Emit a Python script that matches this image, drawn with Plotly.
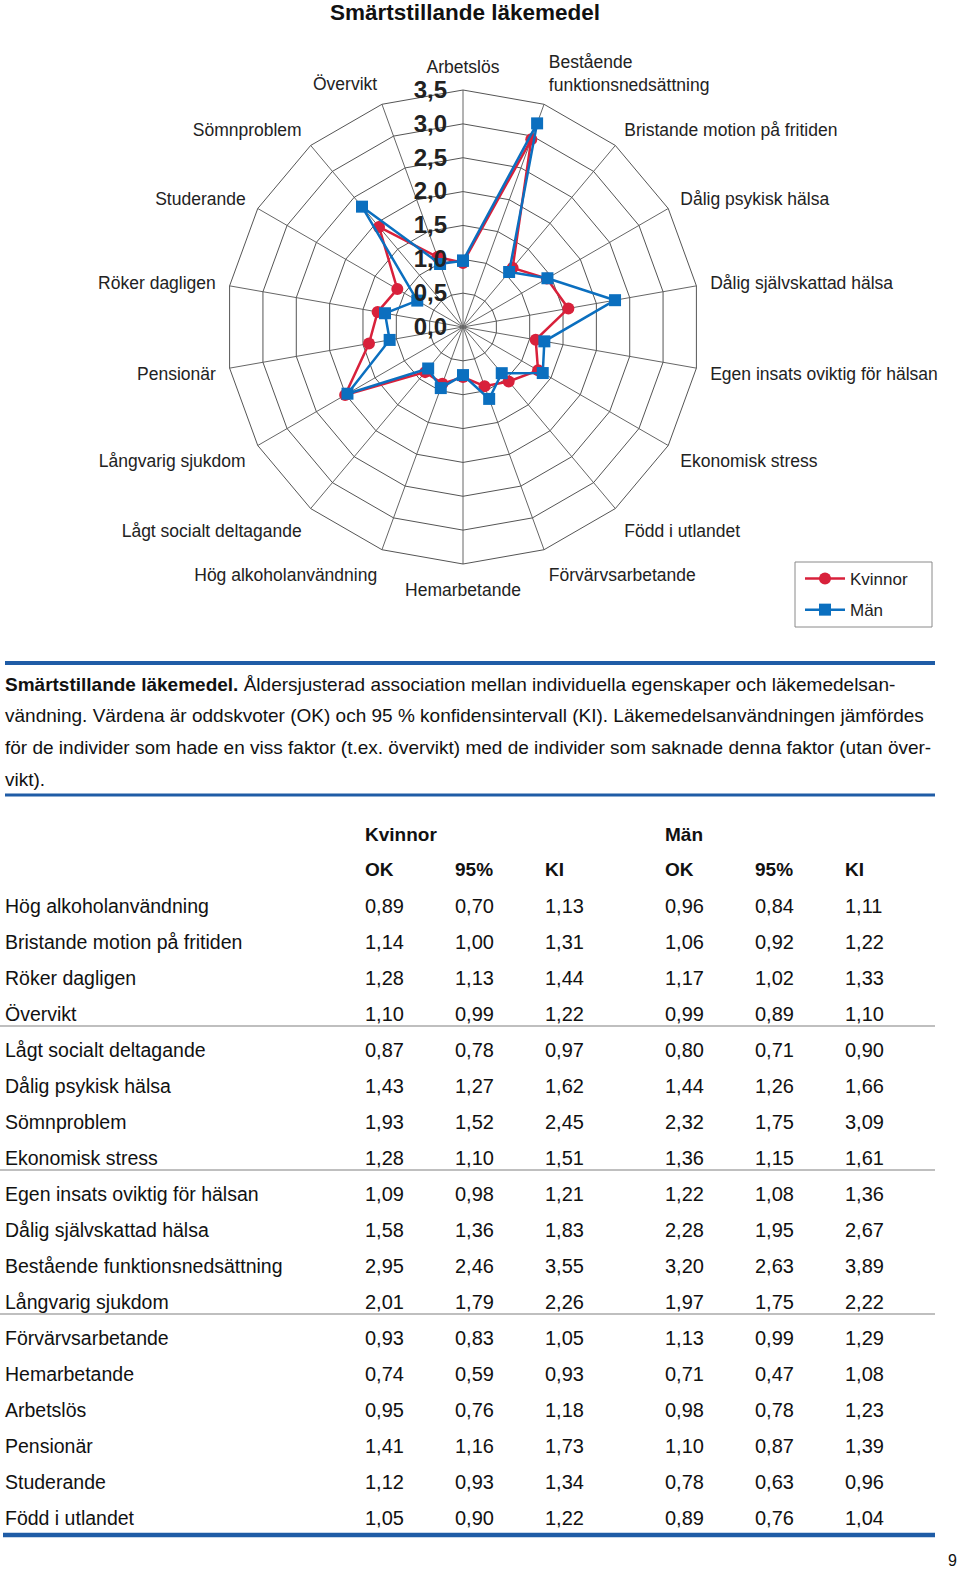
import plotly.graph_objects as go

W, H = 960, 1569

chart_title = "Smärtstillande läkemedel"
series_names = ["Kvinnor", "Män"]

# Table rows (order as in the table)
row_labels = [
    "Hög alkoholanvändning", "Bristande motion på fritiden", "Röker dagligen", "Övervikt",
    "Lågt socialt deltagande", "Dålig psykisk hälsa", "Sömnproblem", "Ekonomisk stress",
    "Egen insats oviktig för hälsan", "Dålig självskattad hälsa", "Bestående funktionsnedsättning",
    "Långvarig sjukdom", "Förvärvsarbetande", "Hemarbetande", "Arbetslös", "Pensionär",
    "Studerande", "Född i utlandet",
]
kv_ok = [0.89, 1.14, 1.28, 1.10, 0.87, 1.43, 1.93, 1.28, 1.09, 1.58, 2.95, 2.01, 0.93, 0.74, 0.95, 1.41, 1.12, 1.05]
kv_lo = [0.70, 1.00, 1.13, 0.99, 0.78, 1.27, 1.52, 1.10, 0.98, 1.36, 2.46, 1.79, 0.83, 0.59, 0.76, 1.16, 0.93, 0.90]
kv_hi = [1.13, 1.31, 1.44, 1.22, 0.97, 1.62, 2.45, 1.51, 1.21, 1.83, 3.55, 2.26, 1.05, 0.93, 1.18, 1.73, 1.34, 1.22]
m_ok = [0.96, 1.06, 1.17, 0.99, 0.80, 1.44, 2.32, 1.36, 1.22, 2.28, 3.20, 1.97, 1.13, 0.71, 0.98, 1.10, 0.78, 0.89]
m_lo = [0.84, 0.92, 1.02, 0.89, 0.71, 1.26, 1.75, 1.15, 1.08, 1.95, 2.63, 1.75, 0.99, 0.47, 0.78, 0.87, 0.63, 0.76]
m_hi = [1.11, 1.22, 1.33, 1.10, 0.90, 1.66, 3.09, 1.61, 1.36, 2.67, 3.89, 2.22, 1.29, 1.08, 1.23, 1.39, 0.96, 1.04]

# Radar categories, clockwise from the top
radar_categories = [
    "Arbetslös", "Bestående funktionsnedsättning", "Bristande motion på fritiden",
    "Dålig psykisk hälsa", "Dålig självskattad hälsa", "Egen insats oviktig för hälsan",
    "Ekonomisk stress", "Född i utlandet", "Förvärvsarbetande", "Hemarbetande",
    "Hög alkoholanvändning", "Lågt socialt deltagande", "Långvarig sjukdom", "Pensionär",
    "Röker dagligen", "Studerande", "Sömnproblem", "Övervikt",
]
radial_ticks = [0.0, 0.5, 1.0, 1.5, 2.0, 2.5, 3.0, 3.5]

table_group_headers = ["Kvinnor", "Män"]
table_col_headers = ["OK", "95%", "KI", "OK", "95%", "KI"]
separator_after = ["Övervikt", "Ekonomisk stress", "Långvarig sjukdom"]

caption_lines = [
    "<b>Smärtstillande läkemedel.</b> Åldersjusterad association mellan individuella egenskaper och läkemedelsan-",
    "vändning. Värdena är oddskvoter (OK) och 95 % konfidensintervall (KI). Läkemedelsanvändningen jämfördes",
    "för de individer som hade en viss faktor (t.ex. övervikt) med de individer som saknade denna faktor (utan över-",
    "vikt).",
]
page_number = "9"

RED = "#D8213B"
BLUE = "#0B6FBF"
DARKBLUE = "#1F5CA6"
FONT = "Liberation Sans, Arial, Helvetica, sans-serif"


def X(px):
    return px / W


def Y(py):
    return 1 - py / H


def fmt(v):
    return f"{v:.2f}".replace(".", ",")


kv_map = dict(zip(row_labels, kv_ok))
m_map = dict(zip(row_labels, m_ok))

theta = radar_categories + [radar_categories[0]]
r_kv = [kv_map[c] for c in radar_categories] + [kv_map[radar_categories[0]]]
r_m = [m_map[c] for c in radar_categories] + [m_map[radar_categories[0]]]

fig = go.Figure()
fig.add_trace(go.Scatterpolar(
    r=r_kv, theta=theta, name=series_names[0], mode="lines+markers",
    line=dict(color=RED, width=2.5), marker=dict(symbol="circle", size=12, color=RED),
    legendgroup="a",
))
fig.add_trace(go.Scatterpolar(
    r=r_m, theta=theta, name=series_names[1], mode="lines+markers",
    line=dict(color=BLUE, width=2.5), marker=dict(symbol="square", size=12, color=BLUE),
    legendgroup="b",
))

ticktext = [c.replace("Bestående ", "Bestående<br>") for c in radar_categories]

cx, cy, R = 463, 327, 237
fig.update_layout(
    width=W, height=H,
    margin=dict(l=0, r=0, t=0, b=0),
    paper_bgcolor="white",
    separators=", ",
    font=dict(family=FONT, color="#111"),
    showlegend=True,
    legend=dict(
        x=X(800), y=Y(561), xanchor="left", yanchor="top",
        borderwidth=0, bgcolor="rgba(0,0,0,0)",
        font=dict(size=17, color="#222", family=FONT),
        tracegroupgap=6, traceorder="grouped",
        itemwidth=40,
    ),
    polar=dict(
        domain=dict(x=[X(cx - R), X(cx + R)], y=[Y(cy + R), Y(cy - R)]),
        bgcolor="white",
        gridshape="linear",
        radialaxis=dict(
            range=[0, 3.5], tickmode="array", tickvals=radial_ticks, tickformat=".1f",
            angle=90, side="counterclockwise", showline=False, tickangle=90,
            gridcolor="#555555", gridwidth=1,
            ticks="outside", ticklen=7, tickcolor="rgba(0,0,0,0)",
            tickfont=dict(family=FONT, size=24, color="#222", weight="bold"),
            layer="above traces",
        ),
        angularaxis=dict(
            rotation=90, direction="clockwise",
            tickmode="array", tickvals=radar_categories, ticktext=ticktext,
            gridcolor="#666666", gridwidth=1,
            showline=True, linecolor="#555", linewidth=1,
            ticks="outside", ticklen=10, tickcolor="rgba(0,0,0,0)",
            tickfont=dict(family=FONT, size=17.5, color="#222"),
        ),
    ),
)

ann = []
shapes = []

ann.append(dict(x=X(465), y=Y(12), xref="paper", yref="paper", text=f"<b>{chart_title}</b>",
                showarrow=False, xanchor="center", yanchor="middle",
                font=dict(size=22.5, color="#111", family=FONT)))

# legend frame
shapes.append(dict(type="rect", xref="paper", yref="paper", x0=X(795), x1=X(932), y0=Y(562), y1=Y(627),
                   line=dict(color="#8a8a8a", width=1), fillcolor="rgba(0,0,0,0)"))

# caption
shapes.append(dict(type="line", xref="paper", yref="paper", x0=X(5), x1=X(935), y0=Y(663), y1=Y(663),
                   line=dict(color=DARKBLUE, width=4)))
for i, line in enumerate(caption_lines):
    ann.append(dict(x=X(3), y=Y(684 + i * 31.7), xref="paper", yref="paper", text=line,
                    showarrow=False, xanchor="left", yanchor="middle",
                    font=dict(size=19, color="#111", family=FONT)))
shapes.append(dict(type="line", xref="paper", yref="paper", x0=X(5), x1=X(935), y0=Y(795), y1=Y(795),
                   line=dict(color=DARKBLUE, width=3)))

# table
col_x = [365, 455, 545, 665, 755, 845]
for gx, gh in zip([365, 665], table_group_headers):
    ann.append(dict(x=X(gx - 2), y=Y(834), xref="paper", yref="paper", text=f"<b>{gh}</b>",
                    showarrow=False, xanchor="left", yanchor="middle",
                    font=dict(size=19, color="#111", family=FONT)))
for x_, h in zip(col_x, table_col_headers):
    ann.append(dict(x=X(x_ - 2), y=Y(870), xref="paper", yref="paper", text=f"<b>{h}</b>",
                    showarrow=False, xanchor="left", yanchor="middle",
                    font=dict(size=19, color="#111", family=FONT)))

cols = [kv_ok, kv_lo, kv_hi, m_ok, m_lo, m_hi]
row_h = 36
for i, lab in enumerate(row_labels):
    yy = 906 + i * row_h
    ann.append(dict(x=X(3), y=Y(yy), xref="paper", yref="paper", text=lab,
                    showarrow=False, xanchor="left", yanchor="middle",
                    font=dict(size=19.5, color="#111", family=FONT)))
    for x_, col in zip(col_x, cols):
        ann.append(dict(x=X(x_ - 2), y=Y(yy), xref="paper", yref="paper", text=fmt(col[i]),
                        showarrow=False, xanchor="left", yanchor="middle",
                        font=dict(size=20, color="#111", family=FONT)))
    if lab in separator_after:
        ys = yy + row_h / 2 - 6
        shapes.append(dict(type="line", xref="paper", yref="paper", x0=X(0), x1=X(935), y0=Y(ys), y1=Y(ys),
                           line=dict(color="#808080", width=1.2)))

shapes.append(dict(type="line", xref="paper", yref="paper", x0=X(3), x1=X(935), y0=Y(1535), y1=Y(1535),
                   line=dict(color=DARKBLUE, width=4.5)))
ann.append(dict(x=X(952), y=Y(1560), xref="paper", yref="paper", text=page_number,
                showarrow=False, xanchor="center", yanchor="middle",
                font=dict(size=16, color="#111", family=FONT)))

fig.update_layout(annotations=ann, shapes=shapes)
fig.write_html("out.html", config={"displayModeBar": False},
               post_script="document.body.style.margin='0px';")
